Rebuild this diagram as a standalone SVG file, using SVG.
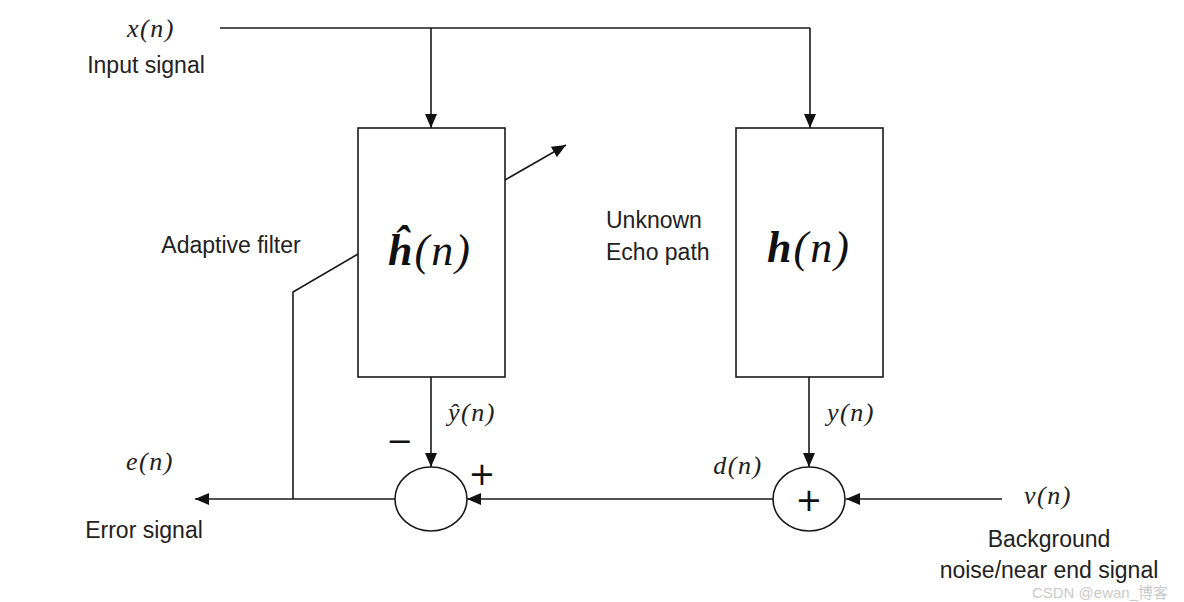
<svg xmlns="http://www.w3.org/2000/svg" width="1184" height="602" viewBox="0 0 1184 602">
<style>
.ln{fill:none;stroke:#1a1a1a;stroke-width:1.6}
.bx{fill:#fff;stroke:#1a1a1a;stroke-width:1.6}
.lbl{font-family:"Liberation Sans",Arial,sans-serif;font-size:23px;fill:#222}
.mth{font-family:"Liberation Serif","DejaVu Serif",serif;font-style:italic;font-size:26px;letter-spacing:1.5px;fill:#222}
.big{font-family:"Liberation Serif","DejaVu Serif",serif;font-size:44px;letter-spacing:2px;fill:#111}
.sgn{font-family:"DejaVu Sans",sans-serif;font-size:32px;fill:#111}
</style>
<defs>
<marker id="ah" viewBox="0 0 14 12" refX="14" refY="6" markerWidth="14" markerHeight="12" markerUnits="userSpaceOnUse" orient="auto">
<path d="M0,0 L14,6 L0,12 z" fill="#111"/>
</marker>
</defs>
<rect width="1184" height="602" fill="#fff"/>
<g id="connectors">
<path class="ln" d="M220,28 H810"/>
<path class="ln" d="M431,28 V128" marker-end="url(#ah)"/>
<path class="ln" d="M810,28 V128" marker-end="url(#ah)"/>
<path class="ln" d="M505,180 L566,145" marker-end="url(#ah)"/>
<path class="ln" d="M358,254 L293,292 V499"/>
<path class="ln" d="M431,377 V467" marker-end="url(#ah)"/>
<path class="ln" d="M809,377 V467" marker-end="url(#ah)"/>
<path class="ln" d="M773,499 H467" marker-end="url(#ah)"/>
<path class="ln" d="M395,499 H195" marker-end="url(#ah)"/>
<path class="ln" d="M1002,499 H846" marker-end="url(#ah)"/>
</g>
<g id="input">
<text class="mth" x="151" y="37" text-anchor="middle">x(n)</text>
<text class="lbl" x="146" y="73" text-anchor="middle">Input signal</text>
</g>
<g id="adaptive-filter">
<rect class="bx" x="358" y="128" width="147" height="249"/>
<text class="big" x="430" y="265" text-anchor="middle"><tspan font-weight="bold" font-style="italic">ĥ</tspan><tspan font-style="italic">(n)</tspan></text>
<text class="lbl" x="231" y="253" text-anchor="middle">Adaptive filter</text>
</g>
<g id="echo-path">
<rect class="bx" x="736" y="128" width="147" height="249"/>
<text class="big" x="809" y="262" text-anchor="middle"><tspan font-weight="bold" font-style="italic">h</tspan><tspan font-style="italic">(n)</tspan></text>
<text class="lbl" x="606" y="228">Unknown</text>
<text class="lbl" x="606" y="260">Echo path</text>
</g>
<g id="sum-error">
<ellipse class="bx" cx="431" cy="499" rx="36" ry="32"/>
<text class="mth" x="472" y="421" text-anchor="middle">ŷ(n)</text>
<text class="sgn" x="400" y="452" text-anchor="middle">−</text>
<text class="sgn" x="482" y="485" text-anchor="middle">+</text>
</g>
<g id="sum-near">
<ellipse class="bx" cx="809" cy="499" rx="36" ry="32"/>
<text class="sgn" x="809" y="511" text-anchor="middle">+</text>
<text class="mth" x="851" y="421" text-anchor="middle">y(n)</text>
<text class="mth" x="738" y="474" text-anchor="middle">d(n)</text>
</g>
<g id="error-out">
<text class="mth" x="150" y="470" text-anchor="middle">e(n)</text>
<text class="lbl" x="144" y="538" text-anchor="middle">Error signal</text>
</g>
<g id="noise-in">
<text class="mth" x="1048" y="504" text-anchor="middle">v(n)</text>
<text class="lbl" x="1049" y="547" text-anchor="middle">Background</text>
<text class="lbl" x="1049" y="578" text-anchor="middle">noise/near end signal</text>
</g>
<text x="1100" y="598" text-anchor="middle" font-family="'Liberation Sans','Noto Sans CJK SC',sans-serif" font-size="15" fill="#bbb" fill-opacity="0.8">CSDN @ewan_博客</text>
</svg>
